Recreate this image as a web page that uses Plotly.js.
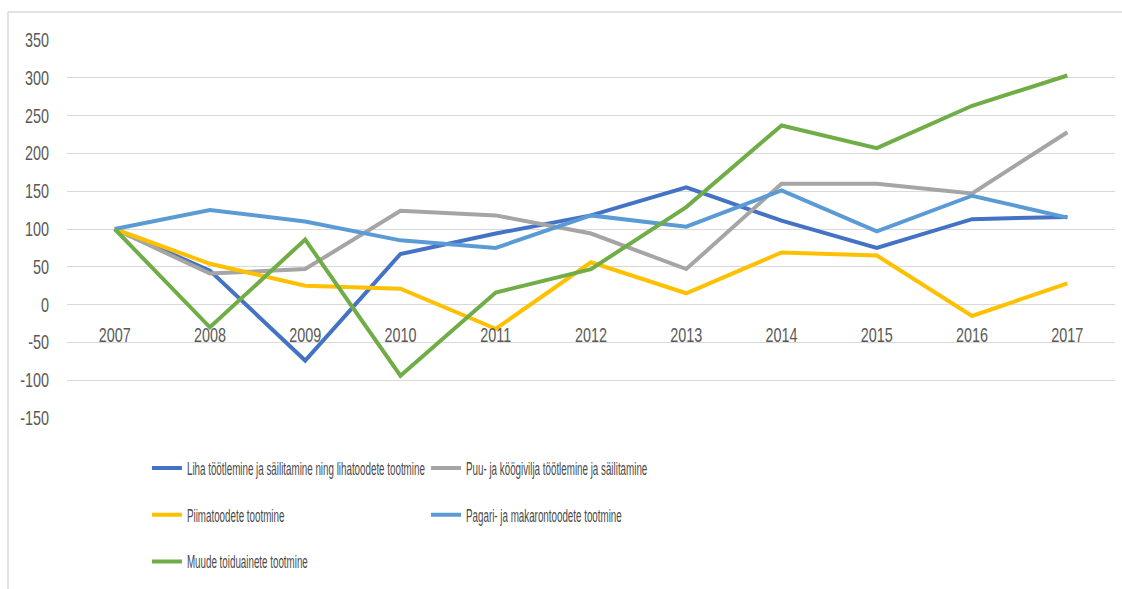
<!DOCTYPE html>
<html>
<head>
<meta charset="utf-8">
<script src="https://cdn.plot.ly/plotly-3.0.1.min.js"></script>
<style>
  html, body { margin: 0; padding: 0; background: #ffffff; }
  #chart { width: 1122px; height: 589px; }
  /* The reference uses a condensed face: narrow the glyphs horizontally,
     keeping each label anchored where Plotly placed it. */
  #chart text.legendtext,
  #chart g.legend text,
  #chart g.legend2 text,
  #chart .infolayer [class*="legend"] text {
    transform-box: fill-box;
    transform-origin: 0% 50%;
    transform: scaleX(0.56);
  }
  #chart g.xtick {
    transform-box: fill-box;
    transform-origin: 50% 50%;
    transform: scaleX(0.72);
  }
  #chart g.ytick {
    transform-box: fill-box;
    transform-origin: 100% 50%;
    transform: scaleX(0.72);
  }
</style>
</head>
<body>
<div id="chart"></div>
<script>
const years = ['2007','2008','2009','2010','2011','2012','2013','2014','2015','2016','2017'];

const seriesNames = [
  'Liha töötlemine ja säilitamine ning lihatoodete tootmine',
  'Puu- ja köögivilja töötlemine ja säilitamine',
  'Piimatoodete tootmine',
  'Pagari- ja makarontoodete tootmine',
  'Muude toiduainete tootmine'
];

const liha   = [100, 45, -74, 67, 94, 118, 155, 111, 75, 113, 116];
const puu    = [100, 41, 47, 124, 118, 94, 47, 160, 160, 147, 228];
const piima  = [100, 54, 25, 21, -32, 56, 15, 69, 65, -15, 28];
const pagari = [100, 125, 110, 85, 75, 118, 103, 151, 97, 144, 115];
const muude  = [100, -30, 86, -94, 16, 47, 129, 237, 207, 263, 303];

const yTicks = [350, 300, 250, 200, 150, 100, 50, 0, -50, -100, -150];

const seriesValues = [liha, puu, piima, pagari, muude];
const colors = ['#4472C4', '#A5A5A5', '#FFC000', '#5B9BD5', '#70AD47'];
const legendOf = ['legend', 'legend2', 'legend', 'legend2', 'legend'];

const FONT = 'Liberation Sans, Arial, sans-serif';

const traces = seriesValues.map((vals, i) => ({
  type: 'scatter',
  mode: 'lines',
  x: years,
  y: vals,
  name: seriesNames[i],
  legend: legendOf[i],
  legendgroup: 'g' + i,
  line: { color: colors[i], width: 4 },
  hoverinfo: 'x+y+name'
}));

const legendCommon = {
  orientation: 'v',
  traceorder: 'grouped',
  tracegroupgap: 21,
  bgcolor: 'rgba(0,0,0,0)',
  font: { family: FONT, size: 17.5, color: '#4a4a4a' },
  xanchor: 'left',
  yanchor: 'top',
  itemwidth: 30
};

const layout = {
  width: 1122,
  height: 589,
  paper_bgcolor: '#ffffff',
  plot_bgcolor: '#ffffff',
  margin: { l: 67, r: 7, t: 40, b: 171 },
  showlegend: true,
  font: { family: FONT, color: '#595959' },
  xaxis: {
    type: 'category',
    range: [-0.5, 10.5],
    anchor: 'free',
    position: 0.3,
    showgrid: false,
    zeroline: false,
    showline: false,
    ticks: '',
    ticklabelstandoff: 16,
    tickfont: { family: FONT, size: 20, color: '#595959' }
  },
  yaxis: {
    range: [-150, 350],
    tickvals: yTicks,
    ticktext: yTicks.map(String),
    showgrid: true,
    gridcolor: '#D9D9D9',
    gridwidth: 1,
    zeroline: false,
    showline: false,
    ticks: '',
    ticklabelstandoff: 17,
    tickfont: { family: FONT, size: 20, color: '#595959' }
  },
  legend: Object.assign({}, legendCommon, { x: 0.0763, y: -0.085 }),
  legend2: Object.assign({}, legendCommon, { x: 0.3426, y: -0.085 }),
  shapes: [
    { type: 'line', xref: 'paper', yref: 'paper',
      x0: (8 - 67) / 1048, x1: (8 - 67) / 1048,
      y0: (418 - 12) / 378, y1: (418 - 600) / 378,
      line: { color: '#D9D9D9', width: 1.5 } },
    { type: 'line', xref: 'paper', yref: 'paper',
      x0: (8 - 67) / 1048, x1: (1130 - 67) / 1048,
      y0: (418 - 12) / 378, y1: (418 - 12) / 378,
      line: { color: '#D9D9D9', width: 1.5 } }
  ]
};

Plotly.newPlot('chart', traces, layout, { displayModeBar: false, staticPlot: true });
</script>
</body>
</html>
